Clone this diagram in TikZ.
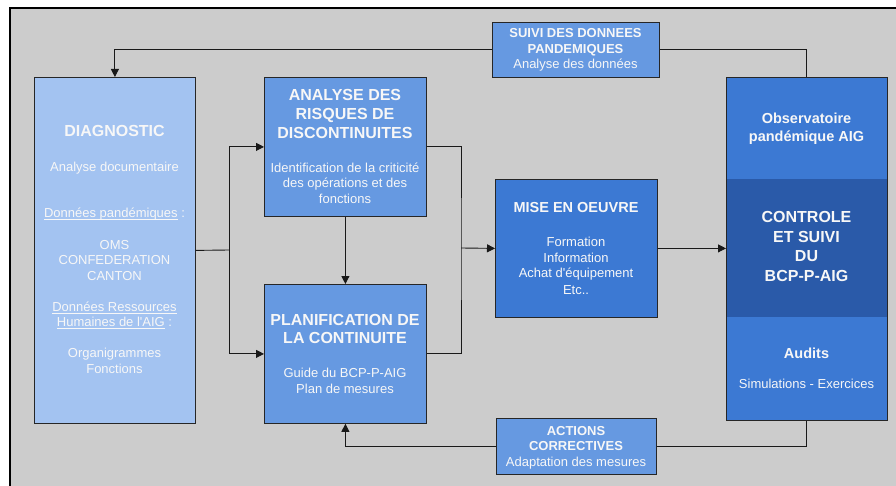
\documentclass[tikz,border=0pt]{standalone}
\usepackage{fontspec}
\setmainfont{Liberation Sans}
\usetikzlibrary{arrows.meta}
\definecolor{bggray}{HTML}{CCCCCC}
\definecolor{lightblue}{HTML}{A3C3F1}
\definecolor{midblue}{HTML}{6699E1}
\definecolor{strongblue}{HTML}{3C79D3}
\definecolor{darkblue}{HTML}{2A5AA9}
\definecolor{txt}{HTML}{F7F7F7}
\newcommand\myul[1]{\setbox0\hbox{#1}\rlap{\rule[-1.9pt]{\wd0}{0.75pt}}\box0\relax}
\tikzset{
  boxstyle/.style={draw=black!85, line width=0.8pt, rectangle, inner sep=0pt, anchor=north west},
  ln/.style={draw=black!90, line width=0.9pt},
  arr/.style={ln, -{Triangle[length=8pt,width=8pt]}},
  tl/.style={text=txt, anchor=base, inner sep=0pt, font=\fontsize{13}{15.5}\selectfont},
  tlb/.style={tl, font=\fontsize{13}{15.5}\selectfont\bfseries},
  tt/.style={tl, font=\fontsize{16}{19}\selectfont\bfseries},
  tm/.style={tl, font=\fontsize{14.5}{17}\selectfont\bfseries},
}
\begin{document}
\begin{tikzpicture}[x=1pt,y=-1pt]
\useasboundingbox (0,0) rectangle (896,486);
\fill[white] (0,0) rectangle (896,486);
\fill[bggray] (10,8) rectangle (896,486);
\draw[black, line width=1.5pt] (10,486) -- (10,8) -- (896,8);

% boxes
\node[boxstyle, fill=lightblue, minimum width=161pt, minimum height=346pt] (diag) at (34,77) {};
\node[boxstyle, fill=midblue, minimum width=162pt, minimum height=139pt] (ana) at (264,77) {};
\node[boxstyle, fill=midblue, minimum width=162pt, minimum height=139pt] (plan) at (264,284) {};
\node[boxstyle, fill=midblue, minimum width=167pt, minimum height=55pt] (suivi) at (492,22) {};
\node[boxstyle, fill=strongblue, minimum width=162pt, minimum height=138pt] (mise) at (495,179) {};
\node[boxstyle, fill=midblue, minimum width=160pt, minimum height=56pt] (act) at (496,418) {};
\fill[strongblue] (726,77) rectangle (887,179);
\fill[darkblue] (726,179) rectangle (887,317);
\fill[strongblue] (726,317) rectangle (887,420);
\node[boxstyle, minimum width=161pt, minimum height=343pt] (ctrl) at (726,77) {};

% connectors
\draw[ln] (ctrl.north) |- (suivi.east);
\draw[arr] (suivi.west) -| (diag.north);
\coordinate (j1) at (229,250);
\coordinate (j2) at (461,248);
\draw[ln] (diag.east) -- (j1);
\draw[arr] (j1) |- (ana.west);
\draw[arr] (j1) |- (plan.west);
\draw[ln] (ana.east) -| (j2) |- (plan.east);
\draw[arr] (j2) -- (mise.west);
\draw[arr] (ana.south) -- (plan.north);
\draw[arr] (mise.east) -- (ctrl.west |- mise.east);
\draw[ln] (ctrl.south) |- (act.east);
\draw[arr] (act.west) -| (plan.south);

% DIAGNOSTIC texts
\node[tt] (d1) at (114.5,137) {DIAGNOSTIC};
\node[tl] (d2) at (114.5,171.5) {Analyse documentaire};
\node[tl] (d3) at (114.5,217.5) {\myul{Données pandémiques} :};
\node[tl] (d4) at (114.5,249.5) {OMS};
\node[tl] (d5) at (114.5,264.8) {CONFEDERATION};
\node[tl] (d6) at (114.5,280) {CANTON};
\node[tl] (d7) at (114.5,311.5) {\myul{Données Ressources}};
\node[tl] (d8) at (114.5,326.8) {\myul{Humaines de l\textquotesingle AIG} :};
\node[tl] (d9) at (114.5,357.8) {Organigrammes};
\node[tl] (d10) at (114.5,373.3) {Fonctions};

% ANALYSE texts
\node[tt] (a1) at (345,100.7) {ANALYSE DES};
\node[tt] (a2) at (345,120) {RISQUES DE};
\node[tt] (a3) at (345,139) {DISCONTINUITES};
\node[tl] (a4) at (345,172.5) {Identification de la criticité};
\node[tl] (a5) at (345,188) {des opérations et des};
\node[tl] (a6) at (345,203.5) {fonctions};

% PLANIFICATION texts
\node[tt] (p1) at (345,325) {PLANIFICATION DE};
\node[tt] (p2) at (345,343.7) {LA CONTINUITE};
\node[tl] (p3) at (345,377.8) {Guide du BCP-P-AIG};
\node[tl] (p4) at (345,393.5) {Plan de mesures};

% SUIVI texts
\node[tlb] (s1) at (575.5,38) {SUIVI DES DONNEES};
\node[tlb] (s2) at (575.5,53.5) {PANDEMIQUES};
\node[tl] (s3) at (575.5,68.8) {Analyse des données};

% MISE texts
\node[tm] (m1) at (576,212.5) {MISE EN OEUVRE};
\node[tl] (m2) at (576,247) {Formation};
\node[tl] (m3) at (576,262) {Information};
\node[tl] (m4) at (576,277.8) {Achat d\textquotesingle équipement};
\node[tl] (m5) at (576,294) {Etc..};

% right box texts
\node[tm] (c1) at (806.5,123.5) {Observatoire};
\node[tm] (c2) at (806.5,141.8) {pandémique AIG};
\node[tt] (c3) at (806.5,223) {CONTROLE};
\node[tt] (c4) at (806.5,243) {ET SUIVI};
\node[tt] (c5) at (806.5,261.7) {DU};
\node[tt] (c6) at (806.5,281.7) {BCP-P-AIG};
\node[tm] (c7) at (806.5,358.5) {Audits};
\node[tl] (c8) at (806.5,388.8) {Simulations - Exercices};

% ACTIONS texts
\node[tlb] (x1) at (576,435.4) {ACTIONS};
\node[tlb] (x2) at (576,450.4) {CORRECTIVES};
\node[tl] (x3) at (576,466.2) {Adaptation des mesures};
\end{tikzpicture}
\end{document}
